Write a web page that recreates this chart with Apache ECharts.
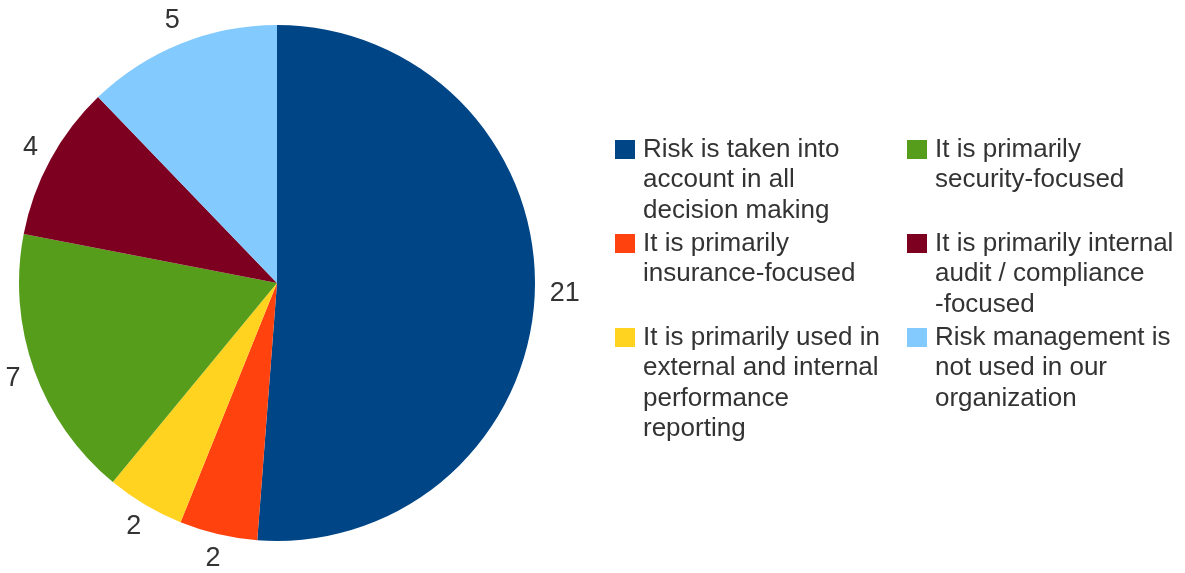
<!DOCTYPE html>
<html>
<head>
<meta charset="utf-8">
<script src="https://cdn.jsdelivr.net/npm/echarts@6/dist/echarts.min.js"></script>
<style>
html,body{margin:0;padding:0;background:#ffffff;}
#chart{width:1185px;height:573px;}
</style>
</head>
<body>
<div id="chart"></div>
<script>
// ---- data (slice order, clockwise from 12 o'clock) ----
const categories = [
  "Risk is taken into account in all decision making",
  "It is primarily insurance-focused",
  "It is primarily used in external and internal performance reporting",
  "It is primarily security-focused",
  "It is primarily internal audit / compliance -focused",
  "Risk management is not used in our organization"
];
const values = [21, 2, 2, 7, 4, 5];
const legendLabelLines = [
  ["Risk is taken into", "account in all", "decision making"],
  ["It is primarily", "insurance-focused"],
  ["It is primarily used in", "external and internal", "performance", "reporting"],
  ["It is primarily", "security-focused"],
  ["It is primarily internal", "audit / compliance", "-focused"],
  ["Risk management is", "not used in our", "organization"]
];

// ---- styles / layout ----
const colors = ['#004586', '#ff420e', '#ffd320', '#579d1c', '#7e0021', '#83caff'];
const FONT = "'Liberation Sans', Arial, sans-serif";
const TEXT_COLOR = '#333333';
const LEGEND_FS = 26;
const LABEL_FS = 27;
const LH = 30.5;
const SQ_W = 20, SQ_H = 19, ICON_W = 23;
const PIE_CENTER = [277, 283];
const PIE_RADIUS = 258;
// legend slot (column x, square top y) per category index
const legendSlots = [
  {x: 615, y: 140}, {x: 615, y: 234}, {x: 615, y: 328},
  {x: 907, y: 140}, {x: 907, y: 234}, {x: 907, y: 328}
];

function iconPath(nLines) {
  const h = nLines * LH;
  const sTop = LH / 2 - SQ_H / 2;
  const sBot = sTop + SQ_H;
  return 'path://M0,0L' + ICON_W + ',0 ' +
    'M0,' + sTop + 'L' + SQ_W + ',' + sTop + 'L' + SQ_W + ',' + sBot + 'L0,' + sBot + 'Z ' +
    'M0,' + h + 'L' + ICON_W + ',' + h;
}

const legends = categories.map(function (name, i) {
  const lines = legendLabelLines[i];
  const sTop = LH / 2 - SQ_H / 2;
  return {
    data: [{name: name, icon: iconPath(lines.length)}],
    left: legendSlots[i].x,
    top: legendSlots[i].y - sTop,
    padding: 0,
    itemGap: 0,
    itemWidth: ICON_W,
    itemHeight: lines.length * LH,
    selectedMode: false,
    itemStyle: {borderWidth: 0},
    formatter: function () { return lines.join('\n'); },
    textStyle: {fontSize: LEGEND_FS, lineHeight: LH, color: TEXT_COLOR, fontFamily: FONT}
  };
});

const chart = echarts.init(document.getElementById('chart'), null, {renderer: 'canvas'});
chart.setOption({
  animation: false,
  backgroundColor: '#ffffff',
  legend: legends,
  series: [{
    type: 'pie',
    center: PIE_CENTER,
    radius: PIE_RADIUS,
    startAngle: 90,
    clockwise: true,
    avoidLabelOverlap: false,
    itemStyle: {borderWidth: 0},
    emphasis: {disabled: true},
    data: categories.map(function (n, i) {
      return {name: n, value: values[i], itemStyle: {color: colors[i]}};
    }),
    label: {
      show: true,
      position: 'outside',
      formatter: '{c}',
      fontSize: LABEL_FS,
      color: TEXT_COLOR,
      fontFamily: FONT,
      distanceToLabelLine: 0
    },
    labelLine: {show: false, length: 15, length2: 0},
    // place the label box just outside the anchor point, pushed along the slice direction
    labelLayout: function (p) {
      const r = p.labelRect;
      const ax = p.align === 'right' ? r.x + r.width : (p.align === 'center' ? r.x + r.width / 2 : r.x);
      const ay = r.y + r.height / 2;
      let vx = ax - PIE_CENTER[0], vy = ay - PIE_CENTER[1];
      const len = Math.sqrt(vx * vx + vy * vy) || 1;
      vx /= len; vy /= len;
      return {align: 'center', verticalAlign: 'middle', dx: vx * r.width / 2, dy: vy * r.height * 0.375};
    }
  }]
});
</script>
</body>
</html>
